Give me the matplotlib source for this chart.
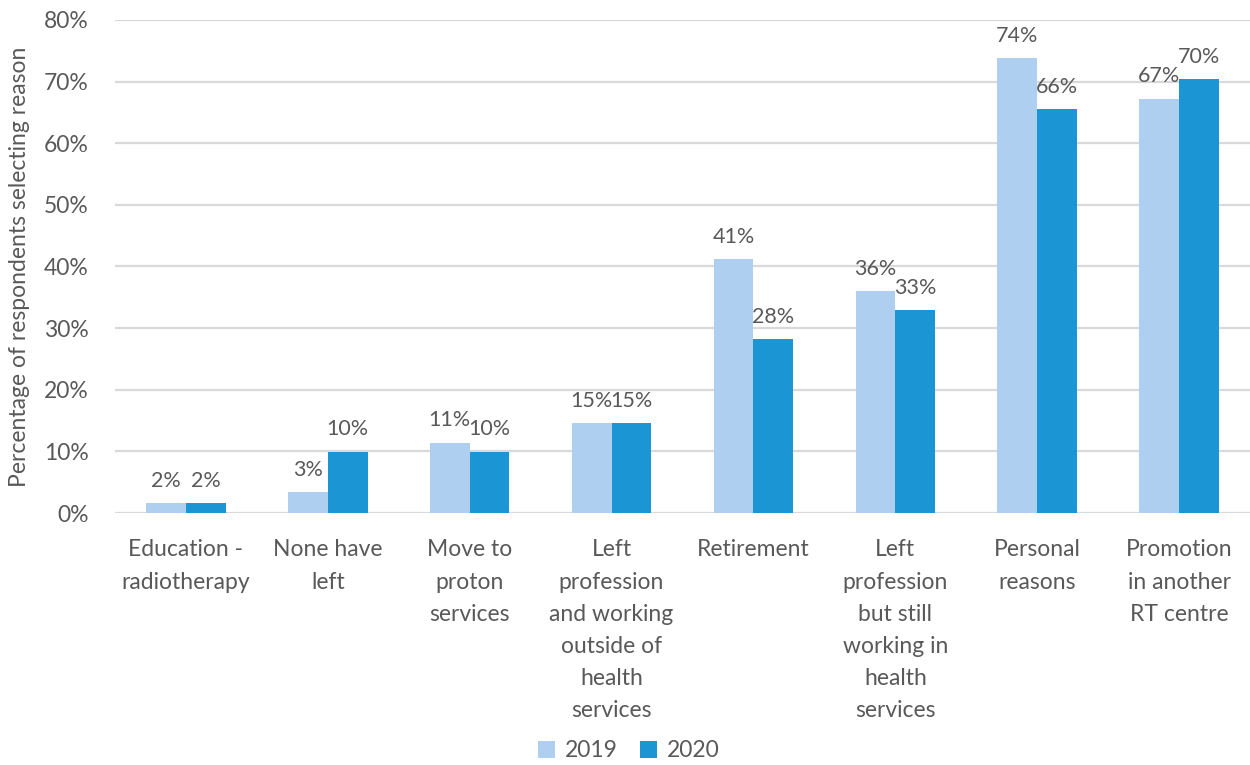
import matplotlib.pyplot as plt
import numpy as np
from matplotlib.ticker import PercentFormatter

categories = [
    "Education -\nradiotherapy",
    "None have\nleft",
    "Move to\nproton\nservices",
    "Left\nprofession\nand working\noutside of\nhealth\nservices",
    "Retirement",
    "Left\nprofession\nbut still\nworking in\nhealth\nservices",
    "Personal\nreasons",
    "Promotion\nin another\nRT centre",
]
pct_2019 = [1.6, 3.4, 11.4, 14.6, 41.2, 36.0, 73.8, 67.2]
pct_2020 = [1.6, 9.9, 9.9, 14.6, 28.2, 32.9, 65.5, 70.4]

light_blue = "#AECFF0"
dark_blue = "#1B95D3"
text_grey = "#595959"

plt.rcParams["font.family"] = ["Lato", "DejaVu Sans"]

fig = plt.figure(figsize=(12.5, 7.65), dpi=100)
ax = fig.add_axes([0.092, 0.3294, 0.908, 0.6445])

x = np.arange(len(categories))
w = 0.28
b1 = ax.bar(x - w / 2, pct_2019, w, color=light_blue, label="2019", zorder=2)
b2 = ax.bar(x + w / 2, pct_2020, w, color=dark_blue, label="2020", zorder=2)

for bars in (b1, b2):
    ax.bar_label(bars, labels=[f"{v:.0f}%" for v in bars.datavalues],
                 padding=9, fontsize=15.5, color=text_grey)

ax.set_xlim(-0.5, len(categories) - 0.5)
ax.set_ylim(0, 80)
ax.set_yticks(np.arange(0, 81, 10))
ax.yaxis.set_major_formatter(PercentFormatter(decimals=0))
ax.grid(axis="y", color="#D9D9D9", linewidth=1.6, zorder=0)
ax.set_axisbelow(True)
for s in ax.spines.values():
    s.set_visible(False)

ax.set_xticks(x)
ax.set_xticklabels(categories, fontsize=16.5, color=text_grey, linespacing=1.66, va="top")
ax.tick_params(axis="x", length=0, pad=19)
ax.tick_params(axis="y", length=0, labelsize=16.5, labelcolor=text_grey, pad=19)
ax.set_ylabel("Percentage of respondents selecting reason", fontsize=16.5,
              color=text_grey, labelpad=10)

fig.legend(handles=[b1, b2], loc="lower center", bbox_to_anchor=(0.503, -0.022),
           ncol=2, frameon=False, fontsize=16.5, handlelength=0.75, handleheight=0.75,
           handletextpad=0.4, columnspacing=1.0, labelcolor=text_grey)

fig.savefig("out.png", dpi=100)
